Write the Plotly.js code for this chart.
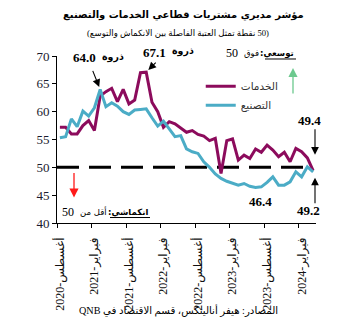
<!DOCTYPE html>
<html><head><meta charset="utf-8">
<script src="https://cdn.plot.ly/plotly-3.0.1.min.js"></script>
<style>html,body{margin:0;padding:0;background:#fff}</style>
</head><body>
<div id="chart" style="width:337px;height:322px"></div>
<script>
// Months (Aug 2020 - Apr 2024)
const months = [
  "2020-08","2020-09","2020-10","2020-11","2020-12",
  "2021-01","2021-02","2021-03","2021-04","2021-05","2021-06","2021-07","2021-08","2021-09","2021-10","2021-11","2021-12",
  "2022-01","2022-02","2022-03","2022-04","2022-05","2022-06","2022-07","2022-08","2022-09","2022-10","2022-11","2022-12",
  "2023-01","2023-02","2023-03","2023-04","2023-05","2023-06","2023-07","2023-08","2023-09","2023-10","2023-11","2023-12",
  "2024-01","2024-02","2024-03","2024-04"
];
// Services PMI (الخدمات)
const services = [
  57.2,57.2,56.0,56.0,57.5,
  58.4,56.6,62.8,63.6,64.2,61.8,64.0,61.4,62.1,67.0,67.1,61.7,
  60.0,57.2,58.2,57.8,57.1,56.3,56.6,55.9,55.6,54.8,55.2,48.9,
  54.8,55.1,51.3,52.2,51.6,53.3,52.7,54.0,53.1,51.9,52.7,51.0,
  53.4,52.8,51.7,49.4
];
// Manufacturing PMI (التصنيع)
const manufacturing = [
  55.3,55.5,58.7,57.3,60.1,
  59.2,60.7,64.0,60.9,61.6,61.0,60.0,59.5,60.3,60.4,60.5,58.9,
  57.4,58.3,57.0,55.5,55.7,53.3,52.8,52.5,51.0,50.0,48.8,48.0,
  47.5,47.2,46.8,47.1,46.6,46.4,46.5,47.3,48.3,46.8,46.8,47.4,
  49.2,48.3,50.1,49.2
];
const tickMonths = ["2020-08","2021-02","2021-08","2022-02","2022-08","2023-02","2023-08","2024-02"];
const tickLabels = ["أغسطس-2020","فبراير-2021","أغسطس-2021","فبراير-2022","أغسطس-2022","فبراير-2023","أغسطس-2023","فبراير-2024"];
const seriesNames = ["الخدمات","التصنيع"];
const threshold = 50;

const xIdx = months.map((m, i) => i);
const tickIdx = tickMonths.map(m => months.indexOf(m));
const RLE = "\u202B", PDF = "\u202C";
const serif = "Liberation Serif, DejaVu Sans, serif";
const arab = "DejaVu Sans, sans-serif";

const traces = [
  {x: xIdx, y: services, type: "scatter", mode: "lines", name: seriesNames[0],
   line: {color: "#8C0B5C", width: 3}, xaxis: "x", yaxis: "y"},
  {x: xIdx, y: manufacturing, type: "scatter", mode: "lines", name: seriesNames[1],
   line: {color: "#4BACC6", width: 3}, xaxis: "x", yaxis: "y"},
  {x: xIdx, y: services, type: "scatter", mode: "lines", showlegend: false, hoverinfo: "skip",
   line: {color: "rgba(0,0,0,0)", width: 0}, xaxis: "x2", yaxis: "y"}
];

const px = v => (v - 57) / 259;          // pixel x -> paper
const py = v => 1 - (v - 56) / 167.5;    // pixel y -> paper
const arrowBlack = {showarrow: true, arrowhead: 2, arrowsize: 1.4, arrowwidth: 1.1, arrowcolor: "#000", text: ""};
function lbl(x, y, text, font, anchor) {
  return {xref: "paper", yref: "paper", x: px(x), y: py(y), showarrow: false,
          xanchor: anchor || "center", yanchor: "middle", text: text, font: font};
}
const numFont = {family: serif, size: 13, color: "#000"};
const arFontB = {family: arab, size: 9.5, color: "#000"};
const noteFont = {family: serif, size: 12, color: "#000"};
const noteAr = {family: arab, size: 8.5, color: "#000"};

const layout = {
  width: 337, height: 322,
  margin: {l: 57, r: 21, t: 56, b: 98.5},
  paper_bgcolor: "#fff", plot_bgcolor: "#fff",
  showlegend: true,
  legend: {x: 0.555, y: 0.905, xanchor: "left", yanchor: "top", bgcolor: "rgba(0,0,0,0)",
           font: {family: arab, size: 10.5, color: "#333"}, tracegroupgap: 0, itemwidth: 30},
  xaxis: {type: "linear", range: [-0.5, months.length - 0.5], showgrid: false, zeroline: false,
          showline: true, linecolor: "#000", linewidth: 1,
          tickmode: "array", tickvals: tickIdx.map(v => v - 0.5), ticktext: tickIdx.map(() => ""),
          ticks: "outside", ticklen: 4, tickcolor: "#000", tickwidth: 1},
  xaxis2: {type: "linear", overlaying: "x", side: "bottom", anchor: "y", range: [-0.5, months.length - 0.5],
           showgrid: false, zeroline: false, showline: false,
           tickmode: "array", tickvals: tickIdx, ticktext: tickLabels, ticks: "",
           tickangle: -90, ticklabelstandoff: 11,
           tickfont: {family: serif, size: 12, color: "#111"}},
  yaxis: {range: [40, 70], showgrid: false, zeroline: false, showline: true, linecolor: "#000", linewidth: 1,
          tickmode: "array", tickvals: [40,45,50,55,60,65,70], ticks: "outside", ticklen: 4, tickcolor: "#000",
          tickfont: {family: serif, size: 13, color: "#1a1a2e"}},
  shapes: [
    {type: "line", xref: "paper", x0: 0, x1: 0.985, yref: "y", y0: threshold, y1: threshold,
     line: {color: "#000", width: 3, dash: "22px,10px"}, layer: "below"},
    // underlines for the bold note labels
    {type: "line", xref: "paper", yref: "paper", x0: px(265), x1: px(296), y0: py(59), y1: py(59),
     line: {color: "#000", width: 1}},
    {type: "line", xref: "paper", yref: "paper", x0: px(110), x1: px(150), y0: py(218), y1: py(218),
     line: {color: "#000", width: 1}}
  ],
  annotations: [
    lbl(183, 15, "<b>" + RLE + "مؤشر مديري مشتريات قطاعي الخدمات والتصنيع" + PDF + "</b>",
        {family: arab, size: 10, color: "#000"}),
    lbl(178, 33, RLE + "(50 نقطة تمثل العتبة الفاصلة بين الانكماش والتوسع)" + PDF,
        {family: serif, size: 8.6, color: "#000"}),
    // peak labels
    lbl(98, 58, "<b>64.0</b>", numFont, "right"),
    lbl(100, 57, "<b>ذروة</b>", arFontB, "left"),
    Object.assign({x: 7, y: 64.0, xref: "x", yref: "y", ax: -8, ay: -20, standoff: 2.5}, arrowBlack),
    lbl(168, 52, "<b>67.1</b>", numFont, "right"),
    lbl(170, 51, "<b>ذروة</b>", arFontB, "left"),
    Object.assign({x: 15, y: 67.1, xref: "x", yref: "y", ax: 11, ay: -11, standoff: 3}, arrowBlack),
    // expansion note
    lbl(240, 53, "50", noteFont, "right"),
    lbl(242, 53, "فوق", noteAr, "left"),
    lbl(296, 53, "<b>" + RLE + "توسعي:" + PDF + "</b>", noteAr, "right"),
    {xref: "paper", yref: "paper", x: px(293), y: py(68), ax: 0, ay: 27, showarrow: true, text: "",
     arrowhead: 2, arrowsize: 1.4, arrowwidth: 1.3, arrowcolor: "#6CC98E"},
    // contraction note
    {xref: "paper", yref: "paper", x: px(74), y: py(198), ax: 0, ay: -26, showarrow: true, text: "",
     arrowhead: 2, arrowsize: 1.4, arrowwidth: 1.3, arrowcolor: "#FF1A1A"},
    lbl(76, 212, "50", noteFont, "right"),
    lbl(78, 212, "أقل من", noteAr, "left"),
    lbl(150, 212, "<b>" + RLE + "انكماشي:" + PDF + "</b>", noteAr, "right"),
    // end values
    lbl(309, 121, "<b>49.4</b>", numFont),
    Object.assign({xref: "paper", yref: "paper", x: px(315), y: py(155), ax: 0, ay: -27}, arrowBlack),
    lbl(308, 211, "<b>49.2</b>", numFont),
    Object.assign({xref: "paper", yref: "paper", x: px(315), y: py(178), ax: 0, ay: 27}, arrowBlack),
    lbl(260, 202, "<b>46.4</b>", numFont),
    // source
    lbl(178, 311, RLE + "المصادر: هيفر أناليتكس، قسم الاقتصاد في QNB" + PDF,
        {family: serif, size: 10.2, color: "#000"})
  ]
};

Plotly.newPlot("chart", traces, layout, {staticPlot: true, displayModeBar: false});
</script>
</body></html>
